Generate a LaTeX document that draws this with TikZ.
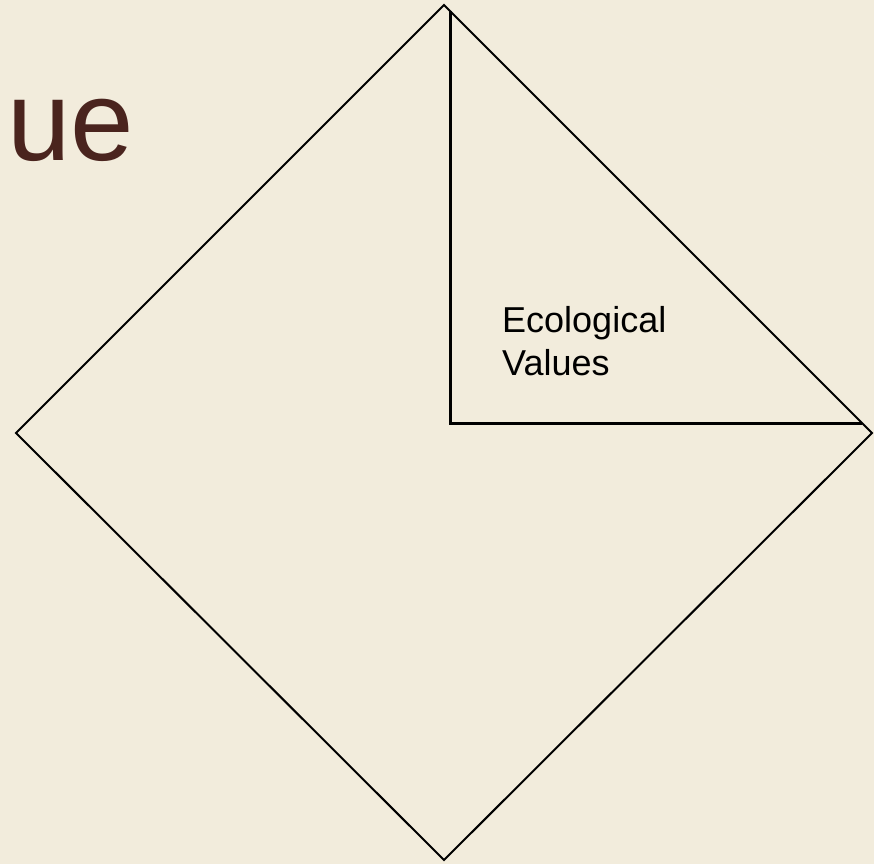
\documentclass[tikz,border=0pt]{standalone}
\usepackage{fontspec}
\setmainfont{Liberation Sans}
\definecolor{bgbeige}{RGB}{242,236,220}
\definecolor{titlebrown}{RGB}{74,36,30}
\begin{document}
\begin{tikzpicture}[x=1pt,y=-1pt,
  thinline/.style={line width=2pt,black,line join=miter},
  thickline/.style={line width=3pt,black,line join=miter},
  label/.style={inner sep=0pt,anchor=base west,align=left}]
\fill[bgbeige] (0,0) rectangle (874,864);
\useasboundingbox (0,0) rectangle (874,864);
% faint marble veins
\draw[bgbeige!90!brown!60!white,line width=1.2pt,opacity=0.35] (560,0) .. controls (700,80) and (780,120) .. (874,190);
\draw[bgbeige!90!brown!60!white,line width=1pt,opacity=0.3] (0,560) .. controls (150,620) and (300,700) .. (420,864);
% diamond
\coordinate (top) at (444,5);
\coordinate (left) at (16,433);
\coordinate (right) at (872,433);
\coordinate (bottom) at (444,860);
\draw[thinline] (top) -- (right) -- (bottom) -- (left) -- cycle;
% inner triangle
\coordinate (ttop) at (450,11);
\coordinate (corner) at (450,423);
\coordinate (tright) at (862,423);
\draw[thickline] (ttop) -- (corner) -- (tright);
% texts
\node[label,text=titlebrown,font=\fontsize{114}{137}\selectfont] (title) at (7,160) {ue};
\node[label,font=\fontsize{36}{43}\selectfont] (eco) at (502,375) {Ecological\\Values};
\end{tikzpicture}
\end{document}
